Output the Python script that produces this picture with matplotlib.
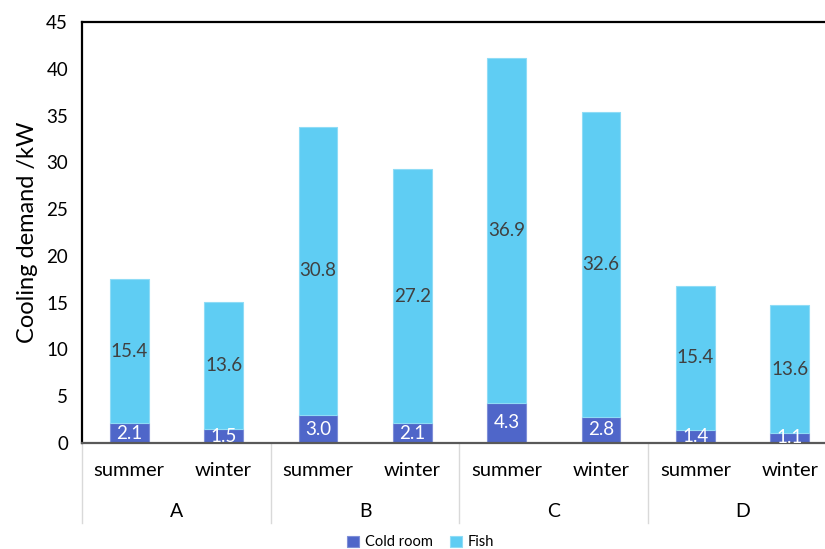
import matplotlib
matplotlib.use("Agg")
import matplotlib.pyplot as plt
import matplotlib.transforms as mtransforms
import numpy as np

plt.rcParams["font.family"] = ["Lato", "DejaVu Sans"]

groups = ["A", "B", "C", "D"]
seasons = ["summer", "winter"]
cold_room = [2.1, 1.5, 3.0, 2.1, 4.3, 2.8, 1.4, 1.1]
fish = [15.4, 13.6, 30.8, 27.2, 36.9, 32.6, 15.4, 13.6]

COLD = "#4F66C9"
FISH = "#5FCDF3"

fig = plt.figure(figsize=(8.25, 5.49), dpi=100, facecolor="white")
ax = fig.add_axes([0.0994, 0.193, 0.915, 0.767])

x = np.arange(len(cold_room))
w = 0.41
b1 = ax.bar(x, cold_room, w, color=COLD, edgecolor="#7F8FD8", linewidth=0.8, label="Cold room")
b2 = ax.bar(x, fish, w, bottom=cold_room, color=FISH, edgecolor="#8FDCF6", linewidth=0.8, label="Fish")

for i in range(len(x)):
    ax.text(x[i], cold_room[i] / 2, f"{cold_room[i]:.1f}", ha="center", va="center",
            color="white", fontsize=13.5)
    ax.text(x[i], cold_room[i] + fish[i] / 2, f"{fish[i]:.1f}", ha="center", va="center",
            color="#404040", fontsize=13.5)

ax.set_xlim(-0.5, len(x) - 0.5)
ax.set_ylim(0, 45)
ax.set_yticks(np.arange(0, 46, 5))
ax.tick_params(axis="y", length=0, labelsize=13.5, pad=10)
ax.set_xticks([])
ax.set_ylabel("Cooling demand /kW", fontsize=17, labelpad=6)

for s in ["top", "left"]:
    ax.spines[s].set_color("black")
    ax.spines[s].set_linewidth(1.6)
ax.spines["bottom"].set_color("#595959")
ax.spines["bottom"].set_linewidth(1.6)
ax.spines["right"].set_visible(False)

# two-level category axis
trans = mtransforms.blended_transform_factory(ax.transData, ax.transAxes)
for i in range(len(x)):
    ax.text(x[i], -0.066, seasons[i % 2], transform=trans, ha="center", va="center",
            fontsize=14.5, color="black")
for g, name in enumerate(groups):
    ax.text(2 * g + 0.5, -0.162, name, transform=trans, ha="center", va="center",
            fontsize=14, color="black")
for xb in np.arange(-0.5, len(x), 2):
    ax.plot([xb, xb], [0, -0.19], transform=trans, color="#D9D9D9", lw=1.0, clip_on=False)

fig.legend(handles=[b1, b2], loc="center", bbox_to_anchor=(0.51, 0.012), ncol=2,
           frameon=False, fontsize=10.5, handlelength=0.8, handleheight=0.8,
           handletextpad=0.4, columnspacing=1.2)

fig.savefig("out.png", dpi=100, facecolor="white")
